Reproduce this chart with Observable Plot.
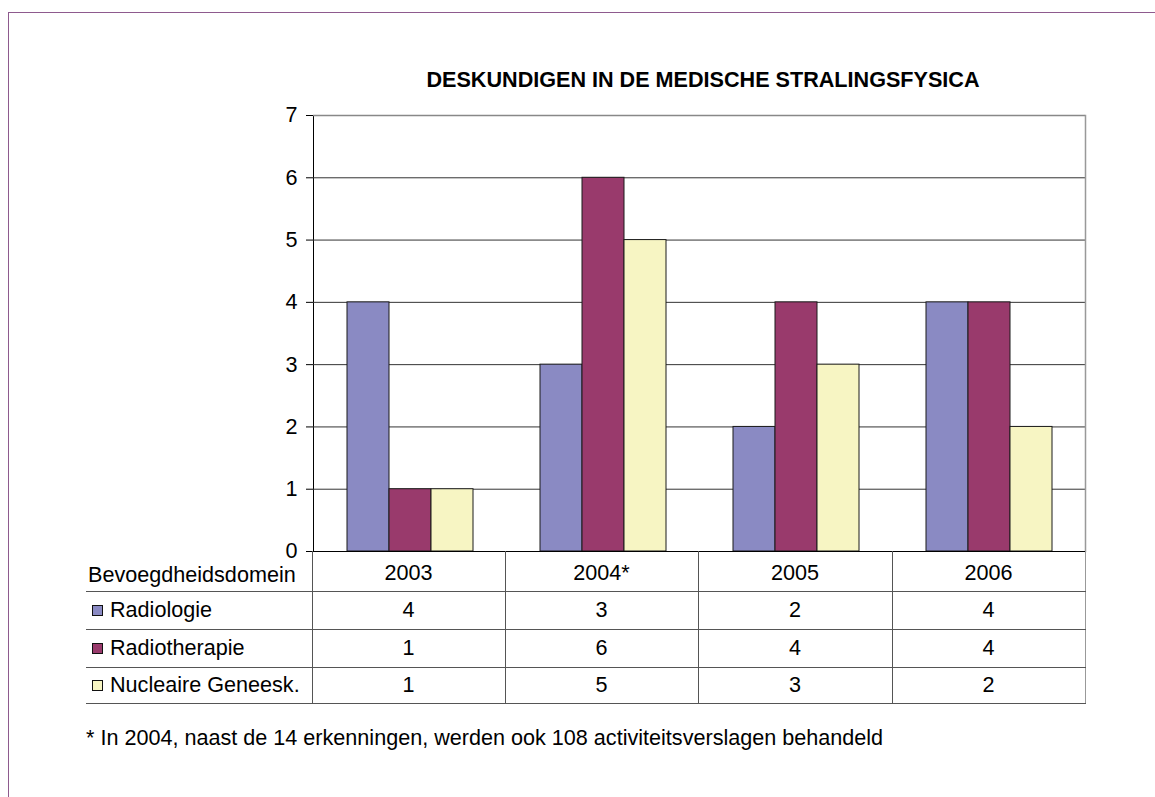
<!DOCTYPE html>
<html>
<head>
<meta charset="utf-8">
<script src="https://cdn.jsdelivr.net/npm/d3@7"></script>
<script src="https://cdn.jsdelivr.net/npm/@observablehq/plot@0.6"></script>
<style>
  html, body { margin: 0; padding: 0; background: #fff; }
  body { font-family: "Liberation Sans", Arial, sans-serif; }
  #page { position: relative; width: 1155px; height: 797px; overflow: hidden; background: #fff; }
  #border { position: absolute; left: 8px; top: 12px; right: -5px; bottom: -5px;
            border-left: 1.5px solid #8e5a8e; border-top: 1.5px solid #8e5a8e; }
  #title { position: absolute; left: 403px; width: 600px; top: 69px; text-align: center;
           font-weight: bold; font-size: 21.6px; line-height: 21px; color: #000; white-space: nowrap; }
  #chart { position: absolute; left: 0; top: 0; }
  #table { position: absolute; left: 86px; top: 551px; border-collapse: collapse;
           font-size: 21.6px; color: #000; table-layout: fixed; }
  #table td { padding: 0; text-align: center; vertical-align: middle; border-bottom: 1px solid #555; white-space: nowrap; }
  #table tr.head td { line-height: 20px; padding-top: 5px; }
  #table tr.head td.lab { padding-top: 9px; }
  #table td.lab { text-align: left; }
  #table td.val { border-left: 1px solid #555; }
  #table td.last { border-right: 1.5px solid #999; }
  .sw { display: inline-block; width: 9px; height: 9px; border: 1px solid #111; margin-left: 6px; margin-right: 7px; vertical-align: 1px; }
  #caption { position: absolute; left: 86px; top: 727px; font-size: 21.6px; line-height: 21px; color: #000; white-space: nowrap; }
</style>
</head>
<body>
<div id="page">
  <div id="border"></div>
  <div id="title"></div>
  <div id="chart"></div>
  <table id="table"></table>
  <div id="caption"></div>
</div>
<script>
const titleText = "DESKUNDIGEN IN DE MEDISCHE STRALINGSFYSICA";
const tableHeader = "Bevoegdheidsdomein";
const captionText = "* In 2004, naast de 14 erkenningen, werden ook 108 activiteitsverslagen behandeld";

const years = ["2003", "2004*", "2005", "2006"];
const series = ["Radiologie", "Radiotherapie", "Nucleaire Geneesk."];
const radiologie = [4, 3, 2, 4];
const radiotherapie = [1, 6, 4, 4];
const nucleaire = [1, 5, 3, 2];
const colors = ["#8a8ac3", "#993a6c", "#f7f5c3"];
const yTicks = [0, 1, 2, 3, 4, 5, 6, 7];

const values = [radiologie, radiotherapie, nucleaire];
const data = [];
years.forEach((yr, i) => series.forEach((s, j) => data.push({year: yr, series: s, value: values[j][i]})));

document.getElementById("title").textContent = titleText;
document.getElementById("caption").textContent = captionText;

const chart = Plot.plot({
  width: 1155,
  height: 560,
  marginTop: 115,
  marginBottom: 9,
  marginLeft: 312,
  marginRight: 70,
  style: {background: "transparent", fontSize: "21.6px", fontFamily: "'Liberation Sans', Arial, sans-serif", color: "#000", overflow: "visible"},
  fx: {domain: years, padding: 0, axis: null},
  x: {domain: series, paddingInner: 0, paddingOuter: 0.745, axis: null},
  y: {domain: [0, 7], ticks: yTicks, tickSize: 7, tickPadding: 9, line: true, label: null, tickFormat: d => String(d)},
  color: {domain: series, range: colors},
  marks: [
    Plot.ruleY(yTicks.filter(d => d > 0 && d < 7), {stroke: "#333", strokeWidth: 1}),
    Plot.ruleY([7], {stroke: "#888", strokeWidth: 1.5}),
    Plot.frame({anchor: "right", stroke: "#999", strokeWidth: 1.5, fx: () => years[years.length - 1]}),
    Plot.barY(data, {fx: "year", x: "series", y: "value", fill: "series", stroke: "#1a1a1a", strokeWidth: 1, inset: 0}),
    Plot.ruleY([0], {stroke: "#000", strokeWidth: 1})
  ]
});
document.getElementById("chart").appendChild(chart);

// data table built from the same arrays
const table = document.getElementById("table");
const colW = [226, 193, 193, 194, 193];
const rowH = [40, 38, 38, 36];
const cg = document.createElement("colgroup");
colW.forEach(w => { const c = document.createElement("col"); c.style.width = w + "px"; cg.appendChild(c); });
table.appendChild(cg);
const head = document.createElement("tr");
head.className = "head";
head.style.height = rowH[0] + "px";
const h0 = document.createElement("td"); h0.className = "lab"; h0.textContent = tableHeader; h0.style.paddingLeft = "2px"; head.appendChild(h0);
years.forEach((yr, i) => { const td = document.createElement("td"); td.className = "val" + (i === years.length - 1 ? " last" : ""); td.textContent = yr; head.appendChild(td); });
table.appendChild(head);
series.forEach((s, j) => {
  const tr = document.createElement("tr");
  tr.style.height = rowH[j + 1] + "px";
  const lab = document.createElement("td"); lab.className = "lab";
  const sw = document.createElement("span"); sw.className = "sw"; sw.style.background = colors[j];
  lab.appendChild(sw); lab.appendChild(document.createTextNode(s));
  tr.appendChild(lab);
  values[j].forEach((v, i) => { const td = document.createElement("td"); td.className = "val" + (i === years.length - 1 ? " last" : ""); td.textContent = v; tr.appendChild(td); });
  table.appendChild(tr);
});
</script>
</body>
</html>
